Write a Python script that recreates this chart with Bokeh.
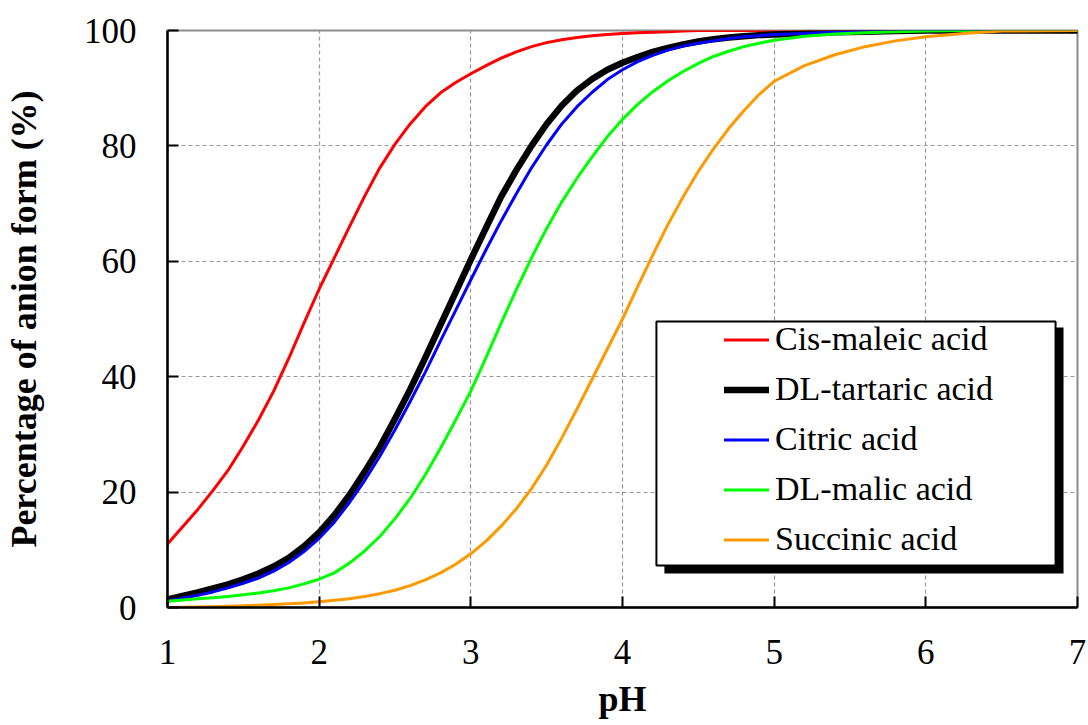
from bokeh.plotting import figure
from bokeh.models import (Range1d, FixedTicker, Legend, LegendItem, BoxAnnotation)
from bokeh.embed import file_html
from bokeh.resources import INLINE

# pH grid shared by all curves
ph = [1.0, 1.1, 1.2, 1.3, 1.4, 1.5, 1.6, 1.7, 1.8, 1.9,
      2.0, 2.1, 2.2, 2.3, 2.4, 2.5, 2.6, 2.7, 2.8, 2.9,
      3.0, 3.1, 3.2, 3.3, 3.4, 3.5, 3.6, 3.7, 3.8, 3.9,
      4.0, 4.1, 4.2, 4.3, 4.4, 4.5, 4.6, 4.7, 4.8, 4.9,
      5.0, 5.2, 5.4, 5.6, 5.8, 6.0, 6.25, 6.5, 7.0]

# percentage of anion form for each acid
cis_maleic = [11, 14, 17, 20.3, 23.8, 28, 32.5, 37.5, 43.2, 49.3,
              55.2, 60.6, 66, 71.3, 76.2, 80.3, 83.8, 86.8, 89.2, 91,
              92.5, 93.9, 95.2, 96.3, 97.2, 97.9, 98.4, 98.8, 99.1, 99.3,
              99.5, 99.6, 99.7, 99.8, 99.9, 100, 100, 100, 100, 100,
              100, 100, 100, 100, 100, 100, 100, 100, 100]
dl_tartaric = [1.4, 2.0, 2.6, 3.3, 4.0, 4.9, 5.9, 7.1, 8.6, 10.6,
               13.0, 16.0, 19.5, 23.5, 27.8, 32.7, 37.8, 43.3, 49, 54.6,
               60.3, 65.8, 71.2, 75.8, 80, 83.8, 87, 89.6, 91.6, 93.2,
               94.4, 95.4, 96.3, 97.0, 97.6, 98.1, 98.5, 98.8, 99.0, 99.2,
               99.3, 99.5, 99.7, 99.8, 99.9, 100, 100, 100, 100]
citric = [1.1, 1.6, 2.1, 2.7, 3.4, 4.2, 5.1, 6.3, 7.8, 9.7,
          12.0, 14.8, 18.2, 22.0, 26.2, 30.8, 35.7, 40.8, 46.2, 51.5,
          56.8, 62.0, 67.0, 71.7, 76.2, 80.2, 83.8, 86.8, 89.3, 91.5,
          93.2, 94.6, 95.7, 96.6, 97.3, 97.8, 98.2, 98.6, 98.9, 99.1,
          99.3, 99.5, 99.7, 99.8, 99.9, 100, 100, 100, 100]
dl_malic = [1.1, 1.3, 1.5, 1.7, 1.9, 2.2, 2.5, 2.9, 3.4, 4.1,
            4.9, 6.0, 7.7, 9.8, 12.3, 15.4, 18.9, 23.0, 27.6, 32.5,
            37.5, 43.3, 49.3, 55.1, 60.6, 65.7, 70.3, 74.4, 78.1, 81.6,
            84.6, 87.2, 89.4, 91.3, 92.9, 94.3, 95.5, 96.4, 97.2, 97.8,
            98.3, 99.0, 99.4, 99.6, 99.8, 99.9, 100, 100, 100]
succinic = [0.0, 0.05, 0.1, 0.15, 0.2, 0.3, 0.4, 0.5, 0.65, 0.8,
            1.0, 1.25, 1.5, 1.9, 2.4, 3.0, 3.8, 4.8, 6.0, 7.5,
            9.3, 11.5, 14.1, 17.1, 20.6, 24.7, 29.4, 34.4, 39.6, 44.8,
            50.0, 55.6, 61.1, 66.4, 71.2, 75.6, 79.5, 83.0, 86.1, 88.9,
            91.2, 93.9, 95.8, 97.2, 98.2, 98.9, 99.5, 99.9, 100]

labels = ["Cis-maleic acid", "DL-tartaric acid", "Citric acid",
          "DL-malic acid", "Succinic acid"]
x_ticks = [1, 2, 3, 4, 5, 6, 7]
y_ticks = [0, 20, 40, 60, 80, 100]

SERIF = "Liberation Serif"

W, H = 1088, 725
BL, BR, BT, BB = 165, 11, 30, 118

p = figure(width=W, height=H, output_backend="svg", toolbar_location=None,
           x_range=Range1d(1, 7), y_range=Range1d(0, 100),
           min_border_left=BL, min_border_right=BR,
           min_border_top=BT, min_border_bottom=BB)
p.background_fill_color = "white"
p.border_fill_color = "white"
p.outline_line_color = "#8c8c8c"
p.outline_line_width = 2

# grid
for g in (p.xgrid, p.ygrid):
    g.grid_line_color = "#999999"
    g.grid_line_dash = "4 3"
    g.grid_line_width = 1.2

p.xaxis.ticker = FixedTicker(ticks=x_ticks)
p.yaxis.ticker = FixedTicker(ticks=y_ticks)

for ax in (p.xaxis, p.yaxis):
    ax.axis_line_color = "black"
    ax.axis_line_width = 2.5
    ax.major_tick_line_color = "black"
    ax.major_tick_line_width = 2
    ax.major_tick_in = 11
    ax.major_tick_out = 0
    ax.minor_tick_line_color = None
    ax.major_label_text_font = SERIF
    ax.major_label_text_font_size = "35px"
    ax.major_label_text_color = "black"
    ax.axis_label_text_font = SERIF
    ax.axis_label_text_font_style = "bold"
    ax.axis_label_text_font_size = "36px"
    ax.axis_label_text_color = "black"

p.xaxis.axis_label = "pH"
p.yaxis.axis_label = "Percentage of anion form (%)"
p.xaxis.major_label_standoff = 32
p.xaxis.axis_label_standoff = 12
p.yaxis.major_label_standoff = 31
p.yaxis.axis_label_standoff = 37

series = [
    (cis_maleic, "#ff0000", 3),
    (dl_tartaric, "#000000", 6.5),
    (citric, "#0000ff", 3),
    (dl_malic, "#00ff00", 3),
    (succinic, "#ff9900", 3),
]
renderers = []
for vals, color, lw in series:
    r = p.line(ph, vals, line_color=color, line_width=lw, line_cap="round",
               line_join="round")
    renderers.append(r)

# legend frame with a drop shadow (pixel geometry converted to data space)
fx0, fx1 = BL, W - BR
fy0, fy1 = BT, H - BB


def px_x(px):
    return 1 + (px - fx0) * 6 / (fx1 - fx0)


def px_y(py):
    return (fy1 - py) * 100 / (fy1 - fy0)


shadow = BoxAnnotation(left=px_x(663), right=px_x(1063), top=px_y(327),
                       bottom=px_y(573), fill_color="black", fill_alpha=1,
                       line_color=None)
frame = BoxAnnotation(left=px_x(655), right=px_x(1055), top=px_y(321),
                      bottom=px_y(565), fill_color="white", fill_alpha=1,
                      line_color="black", line_alpha=1, line_width=2)
p.add_layout(shadow)
p.add_layout(frame)

legend = Legend(
    items=[LegendItem(label=l, renderers=[r]) for l, r in zip(labels, renderers)],
    location=(722 - fx0, fy1 - 558),
    padding=0, margin=0, spacing=12,
    glyph_width=45, glyph_height=37, label_height=37, label_standoff=6,
    label_text_font=SERIF, label_text_font_size="34px",
    label_text_color="black",
    background_fill_alpha=0, border_line_color=None,
)
p.add_layout(legend, "center")

open("out.html", "w").write(file_html(p, INLINE))
